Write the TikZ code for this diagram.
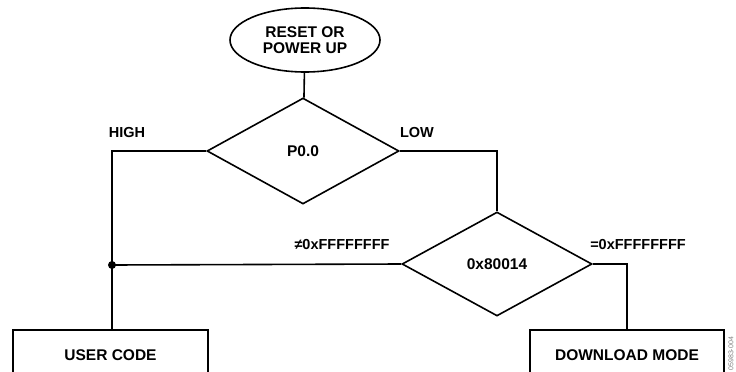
\documentclass[tikz,border=0pt]{standalone}
\usepackage{fontspec}
\setmainfont{Liberation Sans}
\usetikzlibrary{shapes.geometric}
\tikzset{
  flow/.style={line width=1.6pt},
  startbox/.style={ellipse,draw,line width=1.6pt,inner sep=0pt,
    minimum width=150pt,minimum height=64pt,align=center},
  testbox/.style={diamond,draw,line width=1.6pt,inner sep=0pt},
  codebox/.style={rectangle,draw,line width=1.6pt,minimum height=50pt},
  branch/.style={font=\bfseries\fontsize{14.5}{15}\selectfont}
}
\begin{document}
\begin{tikzpicture}[x=1pt,y=-1pt,font=\bfseries\fontsize{15.5}{16}\selectfont]
  \useasboundingbox (0,0) rectangle (736,372);
  \clip (0,0) rectangle (736,372);
  % Start and tests
  \node[startbox] (start) at (305,40) {RESET OR\\POWER UP};
  \node[testbox,minimum width=192pt,minimum height=106pt] (pin) at (303,151) {P0.0};
  \node[testbox,minimum width=190pt,minimum height=104pt] (check) at (497,264) {0x80014};
  % Targets
  \node[codebox,minimum width=195pt] (user) at (110.5,355) {USER CODE};
  \node[codebox,minimum width=194pt] (download) at (627,355) {DOWNLOAD MODE};
  \coordinate (join) at (112,265);
  % Connectors
  \draw[flow] (start) -- (pin);
  \draw[flow] (pin.west) -| (join) -- (join |- user.north);
  \draw[flow] (pin.east) -| (check.north);
  \draw[flow] (check.west) -- (join);
  \draw[flow] (check.east) -| (download.north);
  \fill (join) circle (4pt);
  % Branch labels
  \node[branch] (high) at (127,133) {HIGH};
  \node[branch] (low) at (417,133) {LOW};
  \node[branch] (noteq) at (342,245) {≠0xFFFFFFFF};
  \node[branch] (iseq) at (638,245) {=0xFFFFFFFF};
  \node[rotate=90,font=\fontsize{7}{8}\selectfont,text=gray,anchor=west] (figid) at (731,374) {05983-004};
\end{tikzpicture}
\end{document}
